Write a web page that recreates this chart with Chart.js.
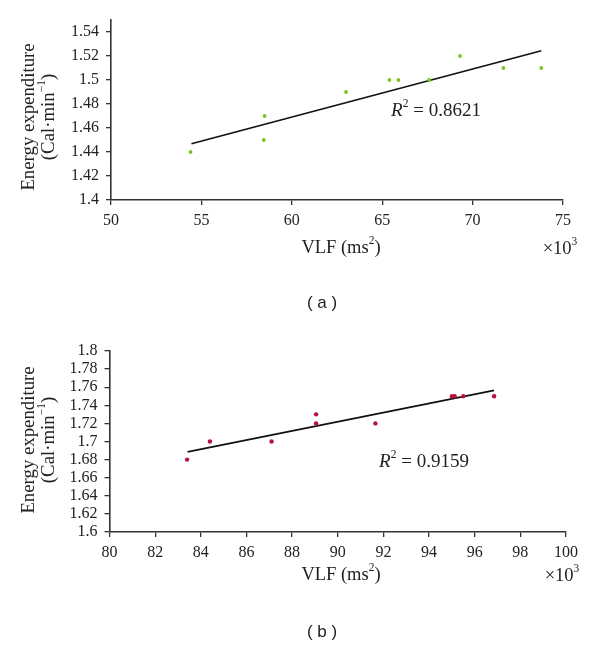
<!DOCTYPE html>
<html lang="en">
<head>
    <meta charset="UTF-8">
    <title>VLF vs energy expenditure</title>
    <script src="https://cdn.jsdelivr.net/npm/chart.js"></script>
    <style>
        body { margin: 0; background: #fff; }
        .panel { position: absolute; left: 0; width: 600px; }
        #panelA { top: 0; height: 320px; z-index: 1; }
        #panelB { top: 300px; height: 348px; z-index: 2; }
    </style>
</head>
<body>
    <div class="panel" id="panelA"><canvas id="chartA" width="600" height="320"></canvas></div>
    <div class="panel" id="panelB"><canvas id="chartB" width="600" height="348"></canvas></div>

    <script>
        // panel (a)
        const vlfA = [54.4, 58.5, 58.45, 63.0, 65.4, 65.9, 67.6, 69.3, 71.7, 73.8];
        const eeA = [1.44, 1.47, 1.45, 1.49, 1.50, 1.50, 1.50, 1.52, 1.51, 1.51];
        const fitXA = [54.45, 73.8];
        const fitYA = [1.4468, 1.5244];
        const xTicksA = [50, 55, 60, 65, 70, 75];
        const yTicksA = [1.4, 1.42, 1.44, 1.46, 1.48, 1.5, 1.52, 1.54];

        // panel (b)
        const vlfB = [83.4, 84.4, 87.1, 89.05, 89.05, 91.65, 95.0, 95.12, 95.5, 96.85];
        const eeB = [1.68, 1.70, 1.70, 1.73, 1.72, 1.72, 1.75, 1.75, 1.75, 1.75];
        const fitXB = [83.42, 96.85];
        const fitYB = [1.6885, 1.7565];
        const xTicksB = [80, 82, 84, 86, 88, 90, 92, 94, 96, 98, 100];
        const yTicksB = [1.6, 1.62, 1.64, 1.66, 1.68, 1.7, 1.72, 1.74, 1.76, 1.78, 1.8];

        const SERIF = '"Liberation Serif", "Times New Roman", serif';
        const SANS = '"Liberation Sans", Arial, sans-serif';

        // draws a row of text pieces centred on (x, y)
        function drawRuns(ctx, runs, x, y) {
            let total = 0;
            runs.forEach(r => { ctx.font = r.font; total += ctx.measureText(r.t).width; });
            let cx = x - total / 2;
            runs.forEach(r => {
                ctx.font = r.font;
                ctx.fillText(r.t, cx, y + (r.dy || 0));
                cx += ctx.measureText(r.t).width;
            });
        }

        function sup(t) { return { t: t, font: '11.5px ' + SERIF, dy: -7 }; }
        function txt(t, size) { return { t: t, font: (size || 18) + 'px ' + SERIF }; }

        const notesPlugin = {
            id: 'notes',
            afterDraw(chart, args, opts) {
                const ctx = chart.ctx;
                ctx.save();
                ctx.fillStyle = '#222';
                ctx.textAlign = 'left';
                ctx.textBaseline = 'middle';

                // y axis title, two rotated lines
                ctx.save();
                ctx.translate(opts.yTitleX, opts.yTitleY);
                ctx.rotate(-Math.PI / 2);
                drawRuns(ctx, [txt('Energy expenditure', 18.8)], 0, 0);
                drawRuns(ctx, [txt('(Cal\u00b7min', 18.8), sup('\u22121'), txt(')', 18.8)], 0, 20);
                ctx.restore();

                drawRuns(ctx, [txt('VLF (ms', 18.5), sup('2'), txt(')', 18.5)], opts.xTitleX, opts.xTitleY);
                drawRuns(ctx, [txt('\u00d710', 18.5), sup('3')], opts.expX, opts.expY);

                drawRuns(ctx, [
                    { t: 'R', font: 'italic 19px ' + SERIF },
                    sup('2'),
                    txt(' = ' + opts.r2, 19)
                ], opts.r2X, opts.r2Y);

                ctx.font = '17px ' + SANS;
                ctx.textAlign = 'center';
                ctx.fillText(opts.label, opts.labelX, opts.labelY);
                ctx.restore();
            }
        };

        function makeChart(id, cfg) {
            const pts = cfg.xs.map((x, i) => ({ x: x, y: cfg.ys[i] }));
            const fit = cfg.fitX.map((x, i) => ({ x: x, y: cfg.fitY[i] }));
            const tickFont = { family: SERIF, size: 16 };
            return new Chart(document.getElementById(id), {
                type: 'scatter',
                data: {
                    datasets: [{
                        data: pts,
                        pointRadius: cfg.pointRadius,
                        pointBackgroundColor: cfg.color,
                        pointBorderWidth: 0
                    }, {
                        type: 'line',
                        data: fit,
                        borderColor: '#111',
                        borderWidth: 1.6,
                        pointRadius: 0,
                        fill: false
                    }]
                },
                options: {
                    responsive: false,
                    animation: false,
                    layout: { padding: cfg.padding },
                    plugins: {
                        legend: { display: false },
                        tooltip: { enabled: false },
                        notes: cfg.notes
                    },
                    scales: {
                        x: {
                            type: 'linear',
                            min: cfg.xTicks[0],
                            max: cfg.xTicks[cfg.xTicks.length - 1],
                            afterBuildTicks: s => { s.ticks = cfg.xTicks.map(v => ({ value: v })); },
                            afterFit: s => { s.height = cfg.xAxisHeight; },
                            grid: { drawOnChartArea: false, drawTicks: true, tickLength: 5, color: '#333', lineWidth: 1.3 },
                            border: { color: '#333', width: 1.6 },
                            ticks: { font: tickFont, color: '#222', padding: 6, maxRotation: 0, autoSkip: false }
                        },
                        y: {
                            min: cfg.yMin,
                            max: cfg.yMax,
                            afterBuildTicks: s => { s.ticks = cfg.yTicks.map(v => ({ value: v })); },
                            afterFit: s => { s.width = cfg.yAxisWidth; },
                            grid: { drawOnChartArea: false, drawTicks: true, tickLength: 5, color: '#333', lineWidth: 1.3 },
                            border: { color: '#333', width: 1.6 },
                            ticks: {
                                font: tickFont, color: '#222', padding: 7, autoSkip: false,
                                callback: v => String(Number(v.toFixed(2)))
                            }
                        }
                    }
                },
                plugins: [notesPlugin]
            });
        }

        makeChart('chartA', {
            xs: vlfA, ys: eeA, fitX: fitXA, fitY: fitYA,
            xTicks: xTicksA, yTicks: yTicksA, yMin: 1.4, yMax: 1.55,
            color: '#7cc520', pointRadius: 1.9,
            padding: { left: 0, right: 37, top: 20, bottom: 0 },
            yAxisWidth: 111, xAxisHeight: 120,
            notes: {
                yTitleX: 29, yTitleY: 117,
                xTitleX: 341, xTitleY: 248,
                expX: 560, expY: 249,
                r2: '0.8621', r2X: 436, r2Y: 111,
                label: '( a )', labelX: 322, labelY: 303
            }
        });

        makeChart('chartB', {
            xs: vlfB, ys: eeB, fitX: fitXB, fitY: fitYB,
            xTicks: xTicksB, yTicks: yTicksB, yMin: 1.6, yMax: 1.8,
            color: '#b5123e', pointRadius: 2.2,
            padding: { left: 0, right: 34, top: 51, bottom: 0 },
            yAxisWidth: 109.5, xAxisHeight: 116,
            notes: {
                yTitleX: 29, yTitleY: 140,
                xTitleX: 341, xTitleY: 275,
                expX: 562, expY: 276,
                r2: '0.9159', r2X: 424, r2Y: 162,
                label: '( b )', labelX: 322, labelY: 332
            }
        });
    </script>
</body>
</html>
